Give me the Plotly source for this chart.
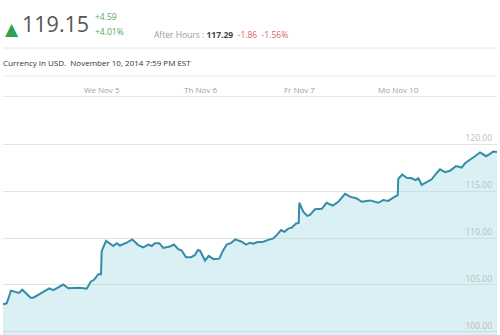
import plotly.graph_objects as go

# ---- data ----
# session_time: trading days elapsed since Nov 4 open (0..5)
session_time = [0.0, 0.037, 0.081, 0.139, 0.162, 0.195, 0.233, 0.280, 0.307, 0.357,
                0.425, 0.469, 0.509, 0.554, 0.610, 0.661, 0.712, 0.779, 0.847, 0.888,
                0.921, 0.965, 0.992, 0.999, 1.043, 1.083, 1.116, 1.151, 1.184, 1.252,
                1.309, 1.369, 1.420, 1.471, 1.505, 1.538, 1.582, 1.622, 1.690, 1.731,
                1.774, 1.809, 1.852, 1.903, 1.943, 1.971, 1.994, 2.045, 2.082, 2.129,
                2.189, 2.224, 2.264, 2.305, 2.351, 2.416, 2.460, 2.500, 2.533, 2.568,
                2.635, 2.685, 2.736, 2.770, 2.814, 2.847, 2.888, 2.922, 2.966, 2.993,
                2.999, 3.039, 3.080, 3.107, 3.158, 3.226, 3.276, 3.337, 3.394, 3.462,
                3.512, 3.580, 3.631, 3.715, 3.799, 3.849, 3.900, 3.950, 3.995, 4.001,
                4.041, 4.086, 4.137, 4.177, 4.204, 4.238, 4.289, 4.339, 4.372, 4.423,
                4.474, 4.524, 4.585, 4.643, 4.676, 4.727, 4.777, 4.828, 4.889, 4.929,
                4.962, 5.0]
price = [102.95, 103.05, 104.4, 104.2, 104.15, 104.5, 104.1, 103.65, 103.65, 103.95,
         104.3, 104.65, 104.45, 104.75, 105.05, 104.65, 104.7, 104.7, 104.6, 105.35,
         105.55, 106.15, 106.15, 108.6, 109.7, 109.4, 109.15, 109.45, 109.2, 109.5,
         109.85, 109.25, 109.0, 109.3, 109.15, 109.45, 109.45, 108.95, 109.1, 109.3,
         108.8, 108.65, 107.95, 107.95, 108.2, 108.7, 108.65, 107.6, 108.1, 107.75,
         107.8, 108.6, 109.3, 109.45, 109.85, 109.6, 109.3, 109.5, 109.4, 109.55,
         109.6, 109.8, 109.95, 110.3, 110.85, 110.65, 111.0, 111.1, 111.55, 111.6,
         113.75, 112.8, 112.35, 112.45, 113.05, 113.1, 113.75, 113.45, 113.85, 114.7,
         114.4, 114.2, 113.85, 114.0, 113.75, 114.05, 113.95, 114.3, 114.55, 116.3,
         116.75, 116.4, 116.35, 116.15, 116.35, 115.65, 116.0, 116.25, 116.7, 117.3,
         117.0, 117.15, 117.65, 117.5, 117.95, 118.3, 118.7, 119.1, 118.7, 118.95,
         119.2, 119.15]
day_ticks = [1, 2, 3, 4]
day_labels = ["We Nov 5", "Th Nov 6", "Fr Nov 7", "Mo Nov 10"]
price_ticks = [100, 105, 110, 115, 120]

last_price = "119.15"
change = "+4.59"
change_pct = "+4.01%"
after_hours = "117.29"
ah_change = "-1.86"
ah_pct = "-1.56%"
subtitle = "Currency In USD.  November 10, 2014 7:59 PM EST"

W, H = 500, 335
MT, MB, ML, MR = 97, 0, 3, 3
PH = H - MT - MB

def py(p):  # pixel y -> paper y
    return (H - MB - p) / PH

def px(p):  # pixel x -> paper x
    return (p - ML) / (W - ML - MR)

FONT = "Open Sans"

fig = go.Figure()
fig.add_trace(go.Scatter(
    x=session_time, y=price, mode="lines",
    line=dict(color="rgb(52,140,165)", width=2),
    fill="tozeroy", fillcolor="rgba(160,215,230,0.38)",
    hoverinfo="skip", showlegend=False))

def ann(text, x, y, size, color=None, family=FONT):
    f = dict(size=size, family=family)
    if color:
        f["color"] = color
    return dict(text=text, xref="paper", yref="paper", x=px(x), y=py(y),
                xanchor="left", yanchor="middle", font=f, showarrow=False)

annotations = [
    ann("▲", 3, 29, 17, "rgb(46,160,80)", "DejaVu Sans"),
    ann(last_price, 20, 23, 21.5, "#555"),
    ann(change, 93, 16, 8.5, "rgb(80,170,90)"),
    ann(change_pct, 93, 31, 8.5, "rgb(80,170,90)"),
    ann("<span style='color:#999'>After Hours : </span>"
        f"<b style='color:#444'>{after_hours}</b>&nbsp;&nbsp;"
        f"<span style='color:rgb(215,95,95)'>{ah_change}&nbsp;&nbsp;{ah_pct}</span>",
        152, 34, 8.5),
    ann(subtitle, 1, 62, 8, "#333"),
]

shapes = [
    dict(type="line", xref="paper", yref="paper", x0=0, x1=1, y0=py(48), y1=py(48),
         line=dict(color="#e6e6e6", width=1)),
    dict(type="line", xref="paper", yref="paper", x0=0, x1=1, y0=py(76), y1=py(76),
         line=dict(color="#e6e6e6", width=1)),
]

fig.update_layout(
    width=W, height=H,
    margin=dict(l=ML, r=MR, t=MT, b=MB),
    paper_bgcolor="white", plot_bgcolor="white",
    annotations=annotations, shapes=shapes,
    font=dict(family=FONT),
    xaxis=dict(range=[0, 5], side="top", tickvals=day_ticks, ticktext=day_labels,
               showgrid=False, zeroline=False, showline=True, linecolor="#e6e6e6",
               ticks="", tickfont=dict(size=8, color="#a0a0a0"), fixedrange=True),
    yaxis=dict(range=[99.68, 125.0], side="right", ticklabelposition="inside",
               tickvals=price_ticks, ticktext=[f"{v:.2f}" for v in price_ticks],
               showgrid=True, gridcolor="#e4e4e4", gridwidth=1, zeroline=False,
               ticks="", tickfont=dict(size=8.5, color="#bbb"), ticklabelshift=-6,
               ticklabelstandoff=2, fixedrange=True),
)

fig.write_html("out.html")
